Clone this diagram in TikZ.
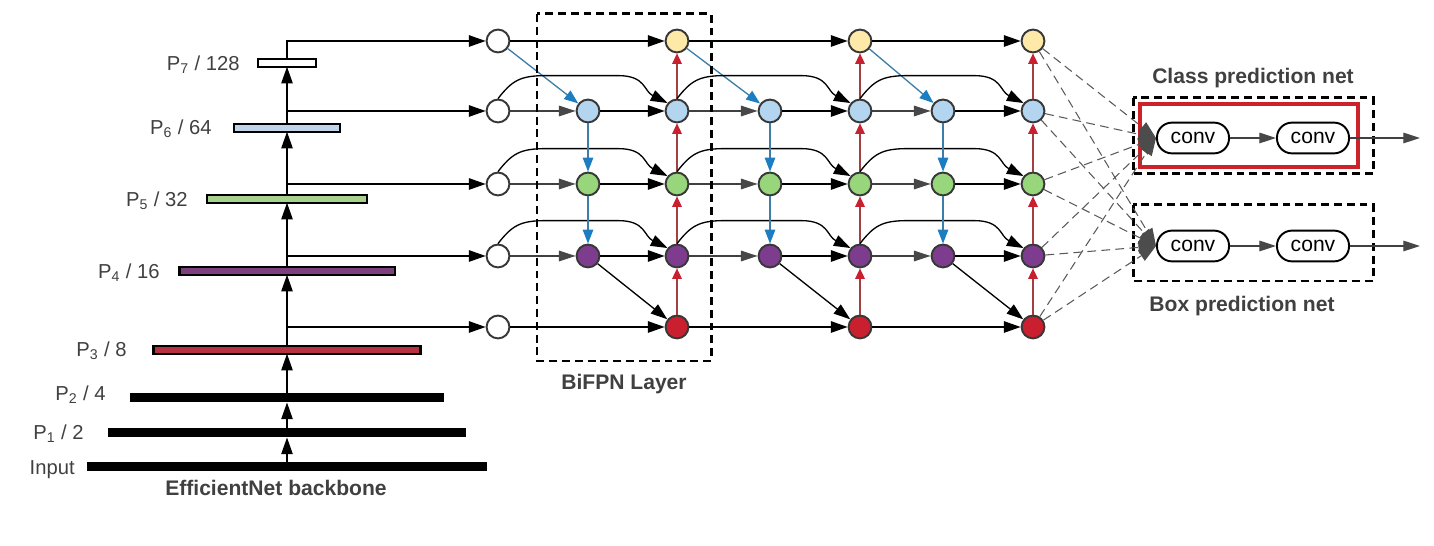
\documentclass[tikz,border=0pt]{standalone}
\usepackage{fontspec}
\setmainfont{Liberation Sans}
\usetikzlibrary{arrows.meta}
\definecolor{cyel}{HTML}{FFE9A8}
\definecolor{cblu}{HTML}{B4D5EF}
\definecolor{cgrn}{HTML}{98D67C}
\definecolor{cpur}{HTML}{7E3C8E}
\definecolor{cred}{HTML}{C91F2E}
\definecolor{nborder}{HTML}{383838}
\definecolor{bluel}{HTML}{3C7EA8}
\definecolor{blueh}{HTML}{1C7DC0}
\definecolor{redl}{HTML}{A04040}
\definecolor{redh}{HTML}{C8202E}
\definecolor{textgray}{HTML}{404040}
\definecolor{pthree}{HTML}{B7323E}
\definecolor{pfour}{HTML}{7E3F7E}
\definecolor{pfive}{HTML}{A9D18E}
\definecolor{psix}{HTML}{BFD4E8}
\definecolor{redbox}{HTML}{CC2229}
\begin{document}
\begin{tikzpicture}[x=0.02cm,y=-0.02cm,
  fnode/.style={circle, draw=nborder, line width=1.1pt, minimum size=13pt, inner sep=0pt},
  arr/.style={draw=black, line width=0.75pt, -{Triangle[length=9.5pt,width=6.5pt]}},
  garr/.style={draw=black!75, line width=0.75pt, -{Triangle[length=9.5pt,width=6pt,color=black!72]}},
  barr/.style={draw=bluel, line width=0.75pt, -{Triangle[length=8pt,width=6pt,color=blueh]}},
  rarr/.style={draw=redl, line width=0.75pt, -{Triangle[length=6pt,width=5.5pt,color=redh]}},
  dsh/.style={draw=black!65, line width=0.6pt, dash pattern=on 5pt off 3pt, -{Triangle[length=10pt,width=7pt,color=black!70]}},
  bar/.style={rectangle, inner sep=0pt, outer sep=0pt, draw=black, line width=1.4pt, minimum height=0.15cm},
  blackbar/.style={rectangle, inner sep=0pt, outer sep=0pt, fill=black, minimum height=0.18cm},
  plabel/.style={anchor=east, text=textgray, font=\fontsize{11.5}{13}\selectfont, inner sep=0pt, text height=8.2pt, text depth=0pt},
  title/.style={text=textgray, font=\bfseries\fontsize{12}{14}\selectfont, inner sep=0pt},
  conv/.style={rectangle, rounded corners=8.5pt, draw=black, line width=1.1pt, minimum width=41pt, minimum height=17.5pt, font=\fontsize{12}{14}\selectfont, inner sep=0pt},
  dbox/.style={draw=black, line width=1.7pt, dash pattern=on 4.5pt off 2.8pt},
]
\useasboundingbox (0,0) rectangle (1434,546);

% ---------- backbone bars ----------
\node[blackbar, minimum width=8cm] (bin) at (287,467) {};
\node[blackbar, minimum width=7.16cm] (b1) at (287,433) {};
\node[blackbar, minimum width=6.3cm] (b2) at (287,398) {};
\node[bar, fill=pthree, minimum width=5.35cm] (b3) at (287,350) {};
\node[bar, fill=pfour, minimum width=4.31cm] (b4) at (287,271) {};
\node[bar, fill=pfive, minimum width=3.19cm] (b5) at (287,199) {};
\node[bar, fill=psix, minimum width=2.11cm] (b6) at (287,128) {};
\node[bar, fill=white, minimum width=1.17cm] (b7) at (287,63) {};

\node[plabel] (lin) at (75,467) {Input};
\node[plabel] (l1) at (84,432) {P\textsubscript{1} / 2};
\node[plabel] (l2) at (106,393) {P\textsubscript{2} / 4};
\node[plabel] (l3) at (127,349) {P\textsubscript{3} / 8};
\node[plabel] (l4) at (160,271) {P\textsubscript{4} / 16};
\node[plabel] (l5) at (188,199) {P\textsubscript{5} / 32};
\node[plabel] (l6) at (212,127) {P\textsubscript{6} / 64};
\node[plabel] (l7) at (240,63) {P\textsubscript{7} / 128};
\node[title] (leb) at (276,488) {EfficientNet backbone};

\draw[arr] (bin.north) -- (b1.south);
\draw[arr] (b1.north) -- (b2.south);
\draw[arr] (b2.north) -- (b3.south);
\draw[arr] (b3.north) -- (b4.south);
\draw[arr] (b4.north) -- (b5.south);
\draw[arr] (b5.north) -- (b6.south);
\draw[arr] (b6.north) -- (b7.south);

% ---------- BiFPN nodes ----------
\foreach \r/\y/\col in {0/41/cyel,1/111/cblu,2/184/cgrn,3/256/cpur,4/327/cred}{
  \node[fnode, fill=white] (n0\r) at (498,\y) {};
  \foreach \c/\x in {2/677,4/860,6/1033}
    \node[fnode, fill=\col] (n\c\r) at (\x,\y) {};
}
\foreach \r/\y/\col in {1/111/cblu,2/184/cgrn,3/256/cpur}{
  \foreach \c/\x in {1/588,3/770,5/943}
    \node[fnode, fill=\col] (n\c\r) at (\x,\y) {};
}

% backbone to first column
\draw[arr] (b7.north) |- (n00);
\draw[arr] (b6.north |- n01) -- (n01);
\draw[arr] (b5.north |- n02) -- (n02);
\draw[arr] (b4.north |- n03) -- (n03);
\draw[arr] (b3.north |- n04) -- (n04);

% BiFPN layers
\foreach \a/\m/\o/\fl in {0/1/2/72,2/3/4/76,4/5/6/66}{
  \draw[arr] (n\a0) -- (n\o0);
  \draw[barr] (n\a0) -- (n\m1);
  \foreach \r in {1,2,3}{
    \draw[garr] (n\a\r) -- (n\m\r);
    \draw[arr] (n\m\r) -- (n\o\r);
    \draw[arr] (n\a\r.north) .. controls +(14,-18) and +(-26,0) .. ++(48,-23)
      -- ++(\fl,0) .. controls +(28,0) and +(-24,-12) .. (n\o\r.140);
  }
  \draw[barr] (n\m1) -- (n\m2);
  \draw[barr] (n\m2) -- (n\m3);
  \draw[arr] (n\a4) -- (n\o4);
  \draw[arr] (n\m3) -- (n\o4);
  \draw[rarr] (n\o4) -- (n\o3);
  \draw[rarr] (n\o3) -- (n\o2);
  \draw[rarr] (n\o2) -- (n\o1);
  \draw[rarr] (n\o1) -- (n\o0);
}

\draw[dbox] (537,14) rectangle (711,361);
\node[title] (lbi) at (624,384) {BiFPN Layer};

% ---------- prediction nets ----------
\draw[dbox] (1133,98) rectangle (1373,174);
\draw[dbox] (1133,205) rectangle (1373,281);
\draw[draw=redbox, line width=2.8pt] (1140,104) rectangle (1358,167);

\node[conv] (ca) at (1193,138) {conv};
\node[conv] (cb) at (1313,138) {conv};
\node[conv] (ba) at (1193,246) {conv};
\node[conv] (bb) at (1313,246) {conv};
\coordinate (cout) at (1420,138);
\coordinate (bout) at (1420,246);
\draw[garr] (ca) -- (cb);
\draw[garr] (cb) -- (cout);
\draw[garr] (ba) -- (bb);
\draw[garr] (bb) -- (bout);

\foreach \r in {0,...,4}{
  \draw[dsh] (n6\r) -- (ca.west);
  \draw[dsh] (n6\r) -- (ba.west);
}

\node[title] (lcl) at (1253,78) {Class prediction net};
\node[title] (lbx) at (1242,306) {Box prediction net};
\end{tikzpicture}
\end{document}
